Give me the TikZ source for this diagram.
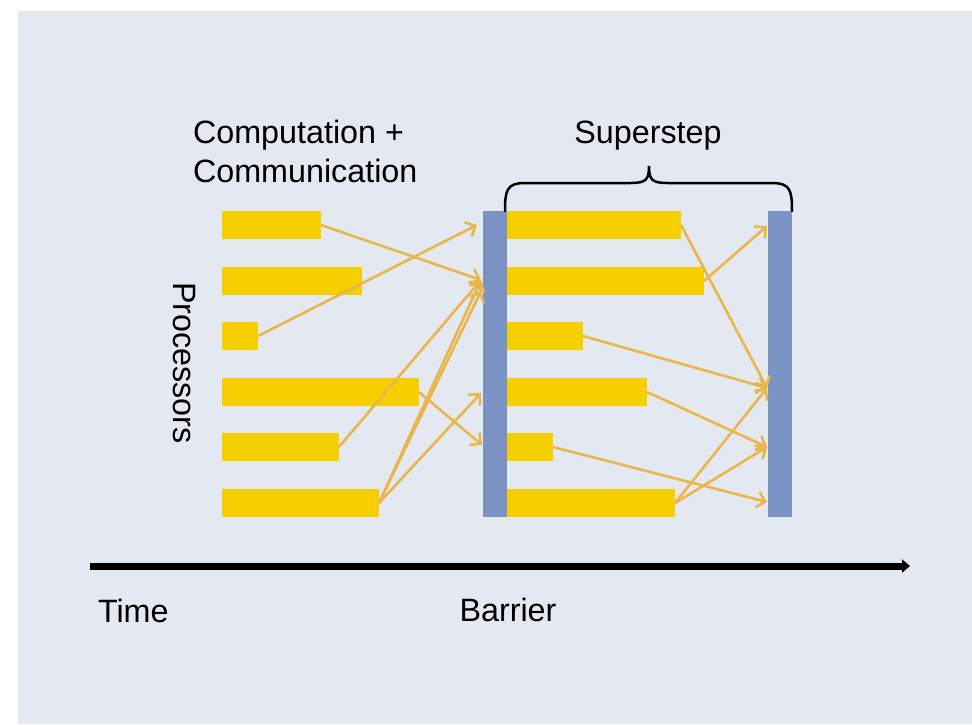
\documentclass[tikz,border=0pt]{standalone}
\usepackage{fontspec}
\setmainfont{Liberation Sans}
\usetikzlibrary{arrows.meta}
\definecolor{bgc}{HTML}{E4E8F1}
\definecolor{barc}{HTML}{F5CF00}
\definecolor{msgc}{HTML}{E9B64C}
\definecolor{barrierc}{HTML}{7B93C4}
\begin{document}
\begin{tikzpicture}[x=1pt,y=-1pt,
  bar/.style={fill=barc, draw=none, inner sep=0pt, outer sep=0pt, minimum height=28pt, anchor=west},
  barrier/.style={fill=barrierc, draw=none, inner sep=0pt, outer sep=0pt, minimum width=24pt, minimum height=306pt},
  msg/.style={draw=msgc, line width=2.6pt, -{Straight Barb[length=8pt,width=16pt]}},
  lbl/.style={font=\fontsize{32.3}{40}\selectfont, inner sep=0pt, outer sep=0pt}]
\fill[white] (0,0) rectangle (972,724);
\fill[bgc] (18,11) rectangle (972,724);
\useasboundingbox (0,0) rectangle (972,724);

% left bars
\node[bar, minimum width=99pt]  (l1) at (222,225) {};
\node[bar, minimum width=140pt] (l2) at (222,281) {};
\node[bar, minimum width=36pt]  (l3) at (222,336) {};
\node[bar, minimum width=197pt] (l4) at (222,392) {};
\node[bar, minimum width=117pt] (l5) at (222,447) {};
\node[bar, minimum width=157pt] (l6) at (222,503) {};

% right bars
\node[bar, minimum width=174pt] (r1) at (507,225) {};
\node[bar, minimum width=197pt] (r2) at (507,281) {};
\node[bar, minimum width=76pt]  (r3) at (507,336) {};
\node[bar, minimum width=140pt] (r4) at (507,392) {};
\node[bar, minimum width=46pt]  (r5) at (507,447) {};
\node[bar, minimum width=168pt] (r6) at (507,503) {};

% barriers
\node[barrier] (B1) at (495,364) {};
\node[barrier] (B2) at (780,364) {};

% arrow end points on barriers
\coordinate (p1a) at (477,225);
\coordinate (p1b) at (481,280);
\coordinate (p1c) at (481,291);
\coordinate (p1d) at (481,393);
\coordinate (p1e) at (482,445);
\coordinate (p2a) at (767,226);
\coordinate (p2b) at (767,388);
\coordinate (p2c) at (767,447);
\coordinate (p2d) at (767,502);

% messages, first phase
\draw[msg] (l1.east) -- (p1b);
\draw[msg] (l3.east) -- (p1a);
\draw[msg] (l4.east) -- (p1e);
\draw[msg] (l5.east) -- (p1b);
\draw[msg] (l6.east) -- (p1b);
\draw[msg] (l6.east) -- (p1c);
\draw[msg] (l6.east) -- (p1d);

% messages, superstep
\draw[msg] (r1.east) -- (p2b);
\draw[msg] (r2.east) -- (p2a);
\draw[msg] (r3.east) -- (p2b);
\draw[msg] (r4.east) -- (p2c);
\draw[msg] (r5.east) -- (p2d);
\draw[msg] (r6.east) -- (p2b);
\draw[msg] (r6.east) -- (p2c);

% brace
\draw[line width=2.5pt, line cap=round] (505,211) .. controls (505,190) and (507,183) .. (525,183) -- (630,183) .. controls (646,183) and (649,180) .. (649,166) .. controls (649,180) and (652,183) .. (668,183) -- (772,183) .. controls (790,183) and (792,190) .. (792,211);

% time axis
\coordinate (t0) at (90,566);
\coordinate (t1) at (910,566);
\draw[line width=7pt, -{Triangle[length=8pt,width=13pt]}] (t0) -- (t1);

% labels
\node[lbl, anchor=base west] (c1) at (193,143) {Computation +};
\node[lbl, anchor=base west] (c2) at (193,182) {Communication};
\node[lbl, anchor=base] (ss) at (648,143) {Superstep};
\node[lbl, anchor=base west] (tm) at (98,622) {Time};
\node[lbl, anchor=base] (br) at (508,621) {Barrier};
\node[lbl, anchor=base, rotate=-90] (pr) at (173,363) {Processors};
\end{tikzpicture}
\end{document}
